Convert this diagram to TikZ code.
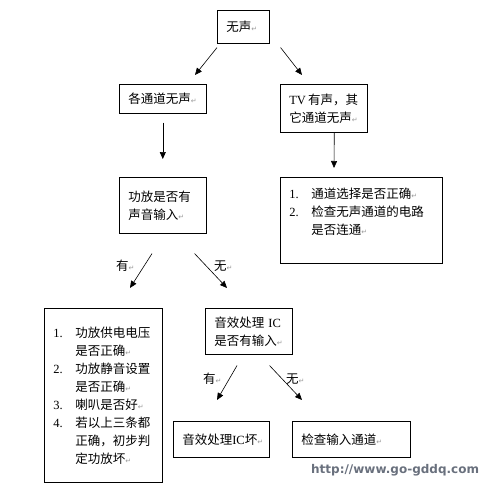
\documentclass[tikz,border=0pt]{standalone}
\usepackage{fontspec}
\usepackage{tikz}
\usetikzlibrary{arrows.meta}
\newfontfamily\cjk{Noto Sans CJK SC}
\newfontfamily\lat{Liberation Serif}
\newfontfamily\symb{DejaVu Sans}
\definecolor{urlgray}{RGB}{105,112,125}
\newcommand{\ret}{{\color{black!40}\fontsize{7}{7}\selectfont\symb ↵}}
\newcommand{\itm}[1]{\makebox[22pt][l]{\lat #1}}
\newcommand{\cont}{\hspace*{22pt}}
\tikzset{
  box/.style={draw, semithick, anchor=north west, inner xsep=9pt, inner ysep=0pt,
    align=left, font=\cjk\fontsize{12.5}{18}\selectfont},
  arr/.style={semithick, -{Triangle[length=7pt,width=6pt]}},
  lbl/.style={anchor=west, inner sep=0pt, font=\cjk\fontsize{12.5}{14}\selectfont}
}

\begin{document}
\begin{tikzpicture}[x=1pt,y=-1pt]
  \useasboundingbox (0,0) rectangle (487,484);
  % boxes
  \node[box, minimum width=52, minimum height=33, text width=34] (nosound) at (217,10) {无声\ret};
  \node[box, minimum width=87, minimum height=29, text width=69] (allch) at (119,84) {各通道无声\ret};
  \node[box, minimum width=87, minimum height=48, text width=69] (tvok) at (280,84) {\mbox{{\lat TV}\,有声，其}\\它通道无声\ret};
  \node[box, minimum width=87, minimum height=56, text width=69] (amp) at (119,177) {功放是否有\\声音输入\ret};
  \node[box, minimum width=162, minimum height=86, text width=144] (chk) at (280,177)
    {\itm{1.}通道选择是否正确\ret\\ \itm{2.}检查无声通道的电路\\ \cont 是否连通\ret\\ \mbox{}};
  \node[box, minimum width=118, minimum height=174, text width=100] (amplist) at (44,308)
    {\itm{1.}功放供电电压\\ \cont 是否正确\ret\\ \itm{2.}功放静音设置\\ \cont 是否正确\ret\\
     \itm{3.}喇叭是否好\ret\\ \itm{4.}若以上三条都\\ \cont 正确，初步判\\ \cont 定功放坏\ret};
  \node[box, minimum width=87, minimum height=46, text width=69] (ic) at (205,308) {\mbox{音效处理 {\lat IC}}\\是否有输入\ret};
  \node[box, minimum width=96, minimum height=36, text width=78] (badic) at (173,421) {\mbox{音效处理{\lat IC}坏\ret}};
  \node[box, minimum width=118, minimum height=36, text width=100, inner xsep=6pt] (input) at (292,421) {检查输入通道\ret};
  % connectors
  \draw[arr] ([shift={(0,4)}]nosound.south west) -- ([shift={(76,-9)}]allch.north west);
  \draw[arr] ([shift={(11,4)}]nosound.south east) -- ([shift={(22,-9)}]tvok.north west);
  \draw[arr] ([shift={(0,9)}]allch.south) -- ([shift={(0,-18)}]amp.north);
  \draw[arr] ([shift={(10.5,0)}]tvok.south) -- ([shift={(54,-9)}]chk.north west);
  \draw[arr] ([shift={(33,20)}]amp.south west) -- ([shift={(86,-20)}]amplist.north west);
  \draw[arr] ([shift={(-12,20)}]amp.south east) -- ([shift={(22,-20)}]ic.north west);
  \draw[arr] ([shift={(32,11)}]ic.south west) -- ([shift={(44,-21)}]badic.north west);
  \draw[arr] ([shift={(-23,11)}]ic.south east) -- ([shift={(10,-21)}]input.north west);
  % labels
  \node[lbl] (yes1) at (116,266) {有\ret};
  \node[lbl] (no1) at (214,266) {无\ret};
  \node[lbl] (yes2) at (203,379) {有\ret};
  \node[lbl] (no2) at (286,379) {无\ret};
  \node[anchor=west, inner sep=0pt, text=urlgray, font=\symb\bfseries\fontsize{12}{12}\selectfont] (url) at (311,470) {http://www.go-gddq.com};
\end{tikzpicture}
\end{document}
